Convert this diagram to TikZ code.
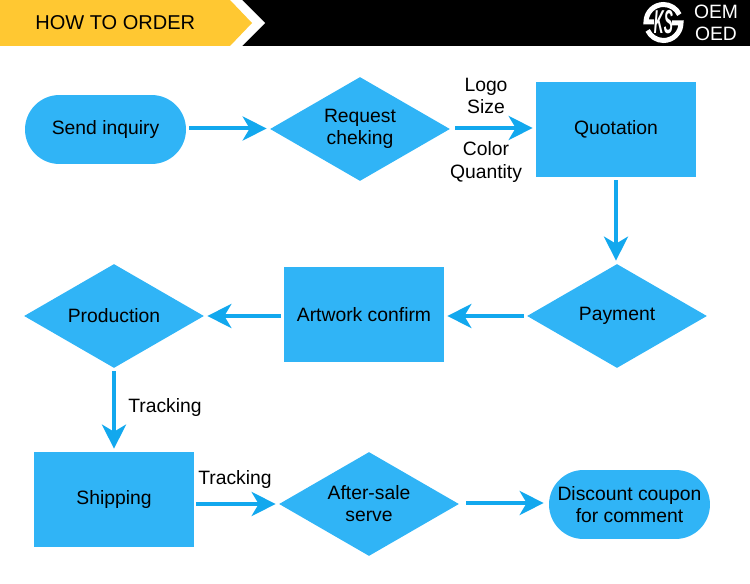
\documentclass[tikz,border=0pt]{standalone}
\usepackage{fontspec}
\setmainfont{Liberation Sans}
\usepackage{xcolor}
\usetikzlibrary{arrows.meta,shapes.geometric,shapes.misc}
\definecolor{stepblue}{HTML}{30B4F6}
\definecolor{arrowblue}{HTML}{12A8EE}
\definecolor{headyellow}{HTML}{FFC832}
\tikzset{
  lab/.style={font=\fontsize{11pt}{12.6pt}\selectfont, align=center, inner sep=0},
  stepbox/.style={lab, rectangle, fill=stepblue, minimum width=3.2cm, minimum height=1.9cm},
  stepdiamond/.style={lab, diamond, fill=stepblue, aspect=1.73, minimum width=3.6cm, minimum height=2.08cm},
  stepround/.style={lab, rounded rectangle, fill=stepblue, minimum width=3.22cm, minimum height=1.38cm},
  flow/.style={-{Stealth[length=0.48cm, width=0.48cm, inset=0.14cm]}, arrowblue, line width=0.08cm, shorten <=0.06cm, shorten >=0.06cm}
}
\begin{document}
\begin{tikzpicture}[x=0.02cm, y=-0.02cm]
    \useasboundingbox (0,0) rectangle (750,584);
    % --- header band ---
    \fill[black] (0,0) rectangle (750,46);
    \fill[white] (229,0) -- (242,0) -- (265,23) -- (242,46) -- (229,46) -- cycle;
    \fill[headyellow] (0,0) -- (230,0) -- (252,23) -- (230,46) -- (0,46) -- cycle;
    \node[lab, font=\fontsize{11.4pt}{12.6pt}\selectfont, anchor=west] (title) at (35,23) {HOW TO ORDER};

    % --- logo ---
    \draw[white, line width=0.1cm] (654,22) -- (646,22) arc[start angle=180, end angle=25, radius=0.35cm];
    \draw[white, line width=0.1cm] (672,23) -- (681,23) arc[start angle=0, end angle=-155, radius=0.35cm];
    \node[lab, white, font=\bfseries\itshape\fontsize{13pt}{14pt}\selectfont, xscale=0.6, yscale=1.45, transform shape] (logo) at (663.5,22) {KS};
    \node[lab, white] (oem) at (716,12) {OEM};
    \node[lab, white] (oed) at (716,34) {OED};

    % --- first row ---
    \node[stepround] (inquiry) at (105.5,129.5) {Send inquiry};
    \node[stepdiamond] (request) at (360,129) {Request\\cheking};
    \node[stepbox] (quotation) at (616,129.5) {Quotation};
    % --- second row ---
    \node[stepdiamond] (payment) at (617,316) {Payment};
    \node[stepbox] (artwork) at (364,314.5) {Artwork confirm};
    \node[stepdiamond] (production) at (114,316) {Production};
    % --- third row ---
    \node[stepbox] (shipping) at (114,499.5) {Shipping};
    \node[stepdiamond] (aftersale) at (369,504) {After-sale\\serve};
    \node[stepround] (coupon) at (629.5,504.5) {Discount coupon\\for comment};

    % --- arrows ---
    \draw[flow] ([yshift=0.02cm]inquiry.east) -- ([yshift=0.02cm]inquiry.east -| request.west);
    \draw[flow, shorten <=0.1cm] ([yshift=0.02cm]request.east) -- ([yshift=0.02cm]request.east -| quotation.west);
    \draw[flow] (quotation.south) -- (quotation.south |- payment.north);
    \draw[flow] (payment.west) -- (artwork.east |- payment.west);
    \draw[flow] (artwork.west |- production.east) -- (production.east);
    \draw[flow] (production.south) -- (shipping.north);
    \draw[flow, shorten <=0.04cm] (shipping.east |- aftersale.west) -- (aftersale.west);
    \draw[flow, shorten <=0.14cm, shorten >=0.1cm] ([yshift=0.02cm]aftersale.east) -- ([yshift=0.02cm]aftersale.east -| coupon.west);

    % --- labels on the arrows ---
    \node[lab] (logosize) at (486,96) {Logo\\Size};
    \node[lab] (colorqty) at (486,162) {Color\\Quantity};
    \node[lab] (track1) at (165,408) {Tracking};
    \node[lab] (track2) at (235,479) {Tracking};
\end{tikzpicture}
\end{document}
